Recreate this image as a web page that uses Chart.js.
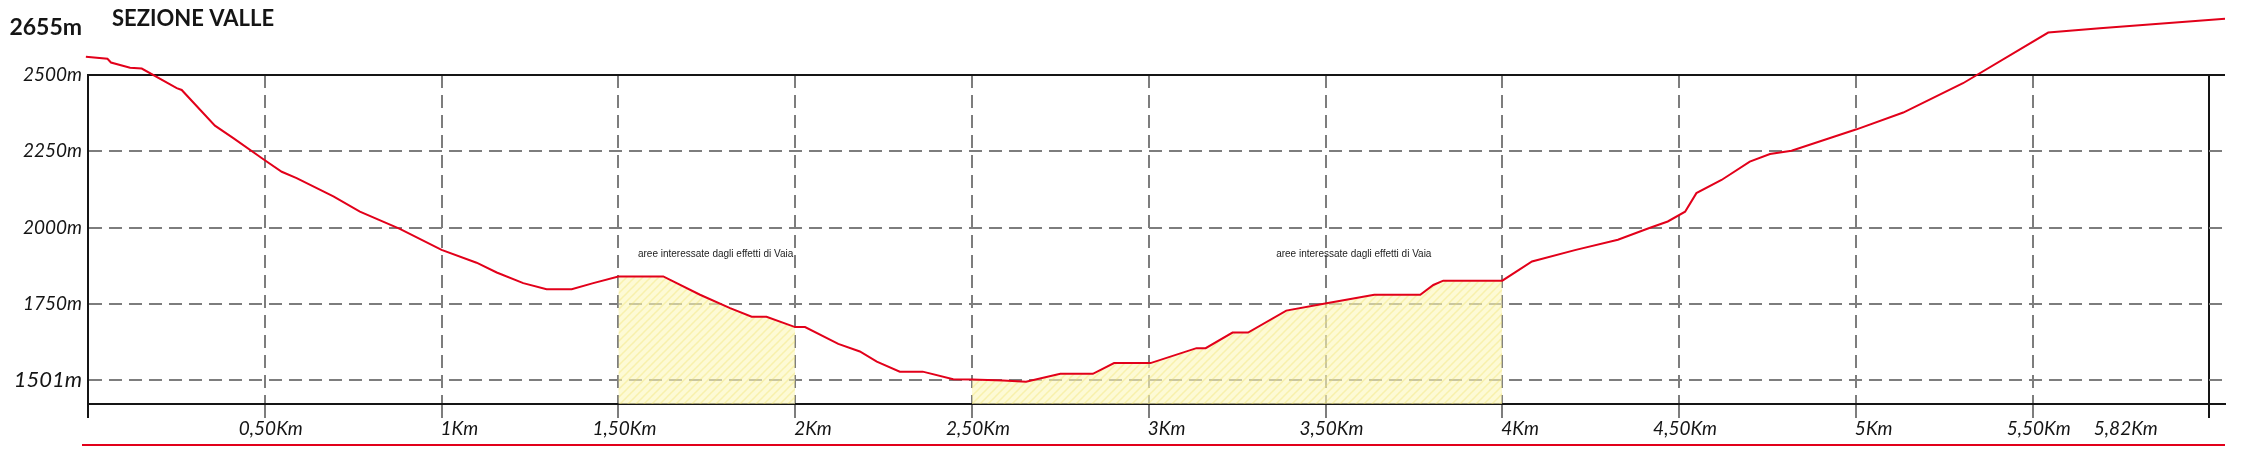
<!DOCTYPE html>
<html>
<head>
<meta charset="utf-8">
<script src="https://cdn.jsdelivr.net/npm/chart.js@4.4.0/dist/chart.umd.min.js"></script>
<style>
  html, body { margin: 0; padding: 0; background: #fff; }
</style>
</head>
<body>
<canvas id="sezione" width="2251" height="462"></canvas>
<script>
// profile of the valley section: distance (km) and elevation (m)
const profileKm = [-0.006, 0.055, 0.065, 0.119, 0.152, 0.251, 0.265, 0.317, 0.359, 0.411, 0.496, 0.548, 0.590, 0.694, 0.769, 0.882,
  1.000, 1.099, 1.156, 1.231, 1.297, 1.368, 1.429, 1.500, 1.627, 1.731, 1.816, 1.877, 1.919, 2.000, 2.028, 2.122, 2.183, 2.231,
  2.296, 2.361, 2.447, 2.500, 2.588, 2.653, 2.750, 2.842, 2.902, 3.005, 3.135, 3.161, 3.237, 3.281, 3.389, 3.503, 3.638, 3.768,
  3.805, 3.833, 4.000, 4.084, 4.208, 4.327, 4.414, 4.468, 4.517, 4.549, 4.620, 4.700, 4.757, 4.818, 5.002, 5.134, 5.303, 5.544,
  5.690, 6.044];
const profileM = [2560, 2553, 2541, 2524, 2521, 2457, 2451, 2386, 2334, 2293, 2224, 2183, 2162, 2102, 2052, 1996,
  1927, 1885, 1853, 1818, 1798, 1798, 1818, 1840, 1840, 1780, 1736, 1708, 1708, 1674, 1674, 1619, 1594, 1561,
  1528, 1528, 1503, 1502, 1499, 1495, 1521, 1521, 1556, 1556, 1605, 1605, 1656, 1656, 1728, 1752, 1780, 1780,
  1812, 1826, 1826, 1889, 1927, 1960, 1998, 2020, 2052, 2113, 2156, 2216, 2241, 2252, 2322, 2377, 2473, 2639,
  2653, 2684];

// stretches hit by the Vaia storm
const vaiaFrom = [1.5, 2.5];
const vaiaTo = [2.0, 4.0];
const vaiaText = 'aree interessate dagli effetti di Vaia';

const yTicks = [1501, 1750, 2000, 2250, 2500, 2655];
const xGridKm = [0, 0.5, 1, 1.5, 2, 2.5, 3, 3.5, 4, 4.5, 5, 5.5, 6];
const xLabelKm = [0.5, 1, 1.5, 2, 2.5, 3, 3.5, 4, 4.5, 5, 5.5, 5.82];
const xLabels = ['0,50Km', '1Km', '1,50Km', '2Km', '2,50Km', '3Km', '3,50Km', '4Km', '4,50Km', '5Km', '5,50Km', '5,82Km'];

const RED = '#e2001a';
const GREY = '#7d7d7d';
const INK = '#151515';

// yellow hatch for the Vaia areas
function makeHatch() {
  const c = document.createElement('canvas');
  c.width = 8; c.height = 8;
  const g = c.getContext('2d');
  g.fillStyle = 'rgba(252, 247, 185, 0.6)';
  g.fillRect(0, 0, 8, 8);
  g.strokeStyle = 'rgba(238, 224, 95, 0.35)';
  g.lineWidth = 1.5;
  g.beginPath();
  g.moveTo(-2, 10); g.lineTo(10, -2);
  g.moveTo(-2, 2); g.lineTo(2, -2);
  g.moveTo(6, 10); g.lineTo(10, 6);
  g.stroke();
  return g.createPattern(c, 'repeat');
}
const hatch = makeHatch();

const profile = profileKm.map((k, i) => ({x: k, y: profileM[i]}));

const vaiaSets = vaiaFrom.map((a, i) => ({
  data: profile.filter(p => p.x >= a && p.x <= vaiaTo[i]),
  borderWidth: 0,
  pointRadius: 0,
  fill: 'start',
  backgroundColor: hatch,
  order: 2
}));

const decor = {
  id: 'decor',
  afterDraw(chart) {
    const {ctx, chartArea, scales: {x, y}} = chart;
    ctx.save();
    // title
    ctx.fillStyle = INK;
    ctx.font = 'bold 22px Lato';
    ctx.textAlign = 'left';
    ctx.textBaseline = 'middle';
    ctx.fillText('SEZIONE VALLE', 112, 19);

    // x labels
    ctx.font = 'italic 19px Lato';
    xLabelKm.forEach((k, i) => {
      const px = x.getPixelForValue(k);
      if (i === xLabelKm.length - 1) {
        ctx.textAlign = 'center';
        ctx.fillText(xLabels[i], px - 20, chartArea.bottom + 25);
      } else if (Number.isInteger(k)) {
        ctx.textAlign = 'left';
        ctx.fillText(xLabels[i], px - 1, chartArea.bottom + 25);
      } else {
        ctx.textAlign = 'center';
        ctx.fillText(xLabels[i], px + 6, chartArea.bottom + 25);
      }
    });

    // Vaia notes
    ctx.font = '10px "Liberation Sans"';
    ctx.textAlign = 'center';
    ctx.fillStyle = '#222';
    [1.775, 3.58].forEach(k => ctx.fillText(vaiaText, x.getPixelForValue(k), y.getPixelForValue(1914)));

    // red rule under the axis
    ctx.strokeStyle = RED;
    ctx.lineWidth = 2;
    ctx.beginPath();
    ctx.moveTo(chartArea.left - 6, chartArea.bottom + 41);
    ctx.lineTo(chartArea.right, chartArea.bottom + 41);
    ctx.stroke();
    ctx.restore();
  }
};

new Chart(document.getElementById('sezione'), {
  type: 'line',
  data: {
    datasets: [{
      data: profile,
      borderColor: RED,
      borderWidth: 2,
      pointRadius: 0,
      fill: false,
      tension: 0,
      clip: false,
      order: 0
    }, ...vaiaSets]
  },
  options: {
    responsive: false,
    devicePixelRatio: 1,
    animation: false,
    layout: { padding: { top: 75, right: 26, bottom: 0, left: 0 } },
    plugins: { legend: { display: false }, tooltip: { enabled: false } },
    scales: {
      x: {
        type: 'linear',
        min: 0,
        max: 6.044,
        afterBuildTicks: s => { s.ticks = xGridKm.map(v => ({value: v})); },
        afterFit: s => { s.height = 58; },
        ticks: { display: false },
        grid: {
          color: c => (c.tick && (c.tick.value === 0 || c.tick.value === 6)) ? INK : GREY,
          tickColor: c => (c.tick && (c.tick.value === 0 || c.tick.value === 6)) ? INK : GREY,
          lineWidth: 2,
          tickWidth: 2,
          tickLength: 14,
          tickBorderDash: []
        },
        border: {
          display: true,
          color: INK,
          width: 2,
          dash: c => (c.tick && c.tick.value !== 0 && c.tick.value !== 6) ? [13, 7] : []
        }
      },
      y: {
        min: 1422,
        max: 2500,
        afterBuildTicks: s => { s.ticks = yTicks.map(v => ({value: v})); },
        afterFit: s => { s.width = 88; },
        ticks: {
          autoSkip: false,
          padding: 6,
          color: INK,
          callback: v => v + 'm',
          font: c => {
            const v = c.tick ? c.tick.value : 0;
            if (v === 2655) return {family: 'Lato', size: 23, weight: 'bold', style: 'normal'};
            if (v === 1501) return {family: 'Lato', size: 22, style: 'italic'};
            return {family: 'Lato', size: 19, style: 'italic'};
          }
        },
        grid: {
          drawTicks: false,
          lineWidth: 2,
          color: c => {
            const v = c.tick ? c.tick.value : 0;
            if (v === 2655) return 'rgba(0,0,0,0)';
            return v === 2500 ? INK : GREY;
          }
        },
        border: {
          display: true,
          color: INK,
          width: 2,
          dash: c => (c.tick && c.tick.value !== 2500) ? [13, 7] : []
        }
      }
    }
  },
  plugins: [decor]
});
</script>
</body>
</html>
